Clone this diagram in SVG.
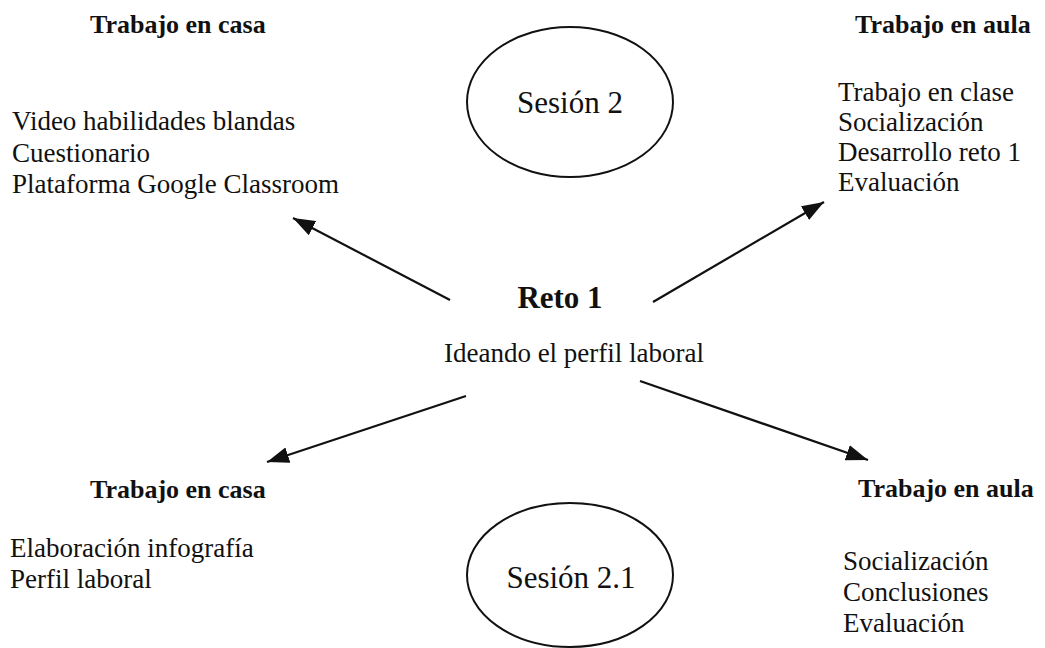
<svg xmlns="http://www.w3.org/2000/svg" width="1045" height="648" viewBox="0 0 1045 648">
<defs>
<style>
text{font-family:"Liberation Serif","Times New Roman",serif;fill:#111}
.h{font-weight:bold;font-size:26px}
.t{font-size:27px}
.s{font-size:31px}
.c{text-anchor:middle}
.e{fill:none;stroke:#111;stroke-width:2}
.a{stroke:#111;stroke-width:2.2;fill:none;marker-end:url(#ah)}
</style>
<marker id="ah" markerUnits="userSpaceOnUse" markerWidth="24" markerHeight="16" refX="22" refY="8" orient="auto">
<path d="M0,0 L22,8 L0,16 Z" fill="#111"/>
</marker>
</defs>
<rect width="1045" height="648" fill="#fff"/>
<g id="session2">
<ellipse class="e" cx="570" cy="102" rx="103" ry="75"/>
<text class="s c" x="570" y="113">Sesión 2</text>
</g>
<g id="session21">
<ellipse class="e" cx="570" cy="575" rx="103" ry="72"/>
<text class="s c" x="571" y="588">Sesión 2.1</text>
</g>
<g id="reto">
<text class="c" x="560" y="308" style="font-weight:bold;font-size:31px">Reto 1</text>
<text class="t c" x="574" y="362">Ideando el perfil laboral</text>
</g>
<g id="casa-top">
<text class="h" x="90" y="33">Trabajo en casa</text>
<text class="t" x="12" y="130">Video habilidades blandas</text>
<text class="t" x="12" y="162">Cuestionario</text>
<text class="t" x="12" y="193">Plataforma Google Classroom</text>
</g>
<g id="aula-top">
<text class="h" x="855" y="33">Trabajo en aula</text>
<text class="t" x="838" y="101">Trabajo en clase</text>
<text class="t" x="838" y="131">Socialización</text>
<text class="t" x="838" y="161">Desarrollo reto 1</text>
<text class="t" x="838" y="191">Evaluación</text>
</g>
<g id="casa-bottom">
<text class="h" x="90" y="498">Trabajo en casa</text>
<text class="t" x="10" y="557">Elaboración infografía</text>
<text class="t" x="10" y="588">Perfil laboral</text>
</g>
<g id="aula-bottom">
<text class="h" x="858" y="497">Trabajo en aula</text>
<text class="t" x="843" y="570">Socialización</text>
<text class="t" x="843" y="601">Conclusiones</text>
<text class="t" x="843" y="632">Evaluación</text>
</g>
<g id="connectors">
<line class="a" x1="450" y1="300" x2="293" y2="218"/>
<line class="a" x1="653" y1="302" x2="824" y2="202"/>
<line class="a" x1="466" y1="396" x2="267" y2="462"/>
<line class="a" x1="640" y1="381" x2="868" y2="460"/>
</g>
</svg>
